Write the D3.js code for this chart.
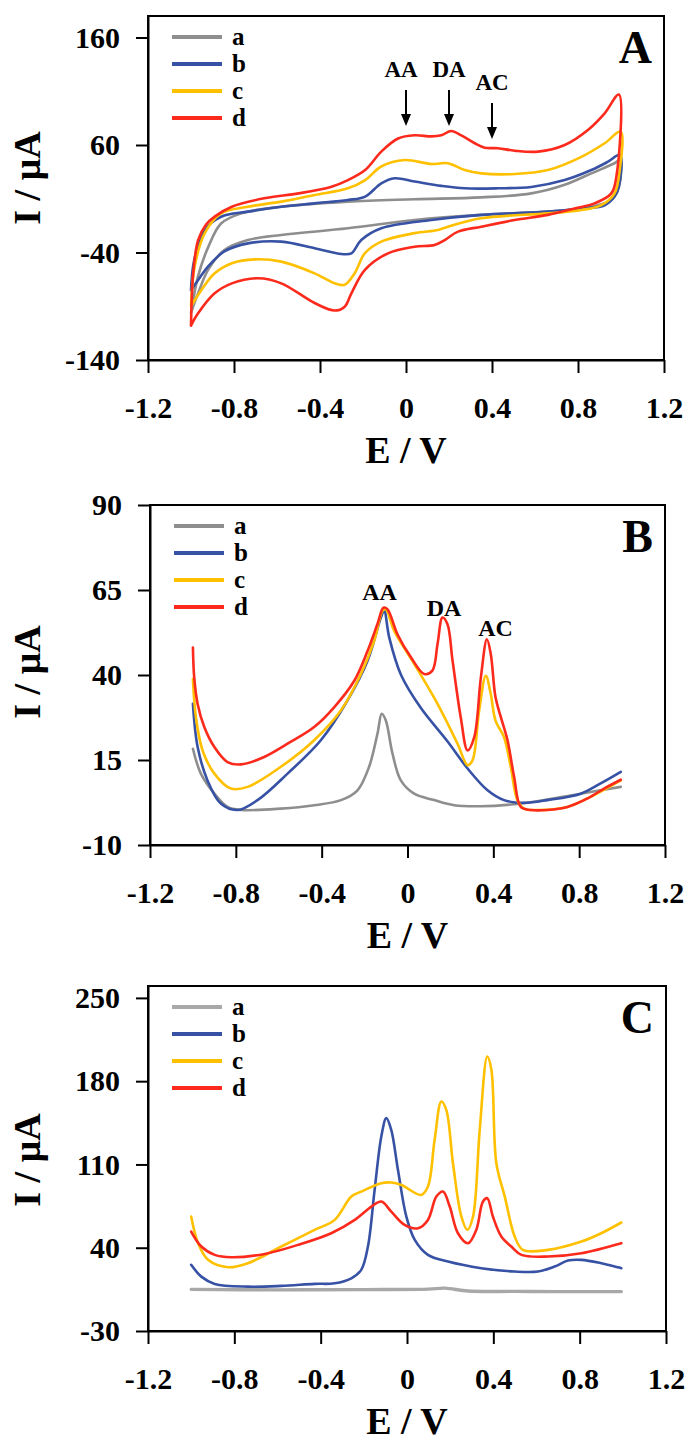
<!DOCTYPE html>
<html><head><meta charset="utf-8">
<script src="https://cdn.jsdelivr.net/npm/d3@7/dist/d3.min.js"></script>
<style>
html,body{margin:0;padding:0;background:#fff;}
svg text{font-family:"Liberation Serif","Times New Roman",serif;font-weight:bold;fill:#000;}
</style></head>
<body><svg id="chart" width="696" height="1448"></svg>
<script>
// ---------- shared ----------
const seriesNames = ["a", "b", "c", "d"];
const xTicks = [-1.2, -0.8, -0.4, 0, 0.4, 0.8, 1.2];
const xTickLabels = ["-1.2", "-0.8", "-0.4", "0", "0.4", "0.8", "1.2"];
const xTitle = "E / V";
const yTitle = "I / \u03bcA";

// ---------- Panel A (CV, loops: forward then reverse scan) ----------
const yTicksA = [-140, -40, 60, 160];
const cvA_a = [[-1.0,-96],[-0.967,-62],[-0.92,-35],[-0.86,-13],[-0.766,-3.6],[-0.58,2.6],[-0.27,7.3],[0.04,9.5],[0.35,11.3],[0.583,15],[0.738,23],[0.862,33.6],[0.97,43],[0.995,46],
  [0.99,21],[0.955,8.8],[0.862,2.6],[0.66,-2],[0.35,-5],[0.04,-9.8],[-0.27,-17.5],[-0.58,-23.7],[-0.735,-28.4],[-0.845,-37.7],[-0.92,-56],[-0.967,-78],[-1.0,-96]];
const cvA_b = [[-1.0,-75],[-0.985,-47],[-0.936,-19],[-0.86,-6.7],[-0.735,-2],[-0.58,2.6],[-0.425,5.7],[-0.27,8.8],[-0.19,12],[-0.115,24.3],[-0.053,29],[0.04,26],[0.164,22],[0.273,19.7],[0.428,19.7],[0.583,21],[0.738,27.4],[0.862,36.7],[0.94,44.5],[0.995,50.7],
  [0.99,21],[0.97,12],[0.924,4],[0.816,1],[0.66,-2],[0.35,-5],[0.118,-9.8],[-0.115,-17.5],[-0.208,-28.4],[-0.254,-40.8],[-0.3,-41.4],[-0.425,-36],[-0.58,-29.9],[-0.735,-31.5],[-0.845,-39],[-0.92,-53],[-0.975,-68],[-1.0,-75]];
const cvA_c = [[-1.0,-90],[-0.983,-53],[-0.936,-22],[-0.86,-3.6],[-0.735,2.6],[-0.58,7.3],[-0.425,13.5],[-0.27,19.7],[-0.19,27.4],[-0.115,40],[-0.006,46],[0.118,42.3],[0.195,43],[0.273,36.7],[0.35,33.6],[0.505,33],[0.66,36.7],[0.816,49],[0.924,61.6],[0.998,72.4],
  [0.994,36.7],[0.97,15],[0.908,4],[0.816,-0.5],[0.66,-3.6],[0.35,-8.2],[0.195,-16],[0.149,-19],[0.04,-22],[-0.115,-29.9],[-0.192,-40.8],[-0.239,-59.4],[-0.285,-70],[-0.332,-68.7],[-0.425,-59.4],[-0.58,-48.5],[-0.704,-46.4],[-0.81,-50],[-0.89,-59.4],[-0.952,-75],[-1.0,-90]];
const cvA_d = [[-1.0,-108],[-0.99,-60],[-0.967,-28.5],[-0.93,-14],[-0.89,-6.6],[-0.81,2.6],[-0.66,10.4],[-0.5,15],[-0.35,21],[-0.27,27.4],[-0.19,36.7],[-0.115,53.8],[-0.037,66],[0.04,69],[0.118,68],[0.164,69],[0.21,73],[0.257,69],[0.32,61.6],[0.366,57.5],[0.428,57],[0.505,54.7],[0.614,53.8],[0.738,60],[0.846,74],[0.924,89.5],[0.99,107],
  [0.978,30],[0.955,15],[0.877,5.7],[0.784,1],[0.66,-5],[0.505,-9.8],[0.35,-16],[0.242,-20.6],[0.18,-28.4],[0.133,-33],[0.04,-34.6],[-0.084,-40.8],[-0.192,-56.3],[-0.254,-78],[-0.285,-90.4],[-0.332,-94],[-0.425,-87],[-0.58,-68.7],[-0.688,-64],[-0.81,-68.7],[-0.89,-78],[-0.967,-96.6],[-1.0,-108]];
const notesA = ["AA", "DA", "AC"];
const notesA_E = [0, 0.2, 0.4];

// ---------- Panel B (DPV) ----------
const yTicksB = [-10, 15, 40, 65, 90];
const dpvB_a = [[-1.0,18.3],[-0.963,11],[-0.9,5.1],[-0.839,1.2],[-0.776,0.3],[-0.59,0.7],[-0.435,1.7],[-0.31,3.2],[-0.233,6.1],[-0.179,13],[-0.14,22.7],[-0.12,28.6],[-0.101,26.6],[-0.07,16.9],[-0.031,9],[0.031,5.1],[0.124,3.2],[0.217,1.7],[0.342,1.4],[0.497,2],[0.652,3.4],[0.807,5.1],[0.994,7.1]];
const dpvB_b = [[-1.0,31.5],[-0.978,18.8],[-0.932,9],[-0.87,2.2],[-0.792,0.3],[-0.699,3.2],[-0.559,11],[-0.404,20.8],[-0.28,32.5],[-0.186,44.2],[-0.124,56.9],[-0.109,59],[-0.085,51],[-0.03,40],[0.06,30.5],[0.186,20.5],[0.28,12.5],[0.373,6.1],[0.45,3.2],[0.543,2.4],[0.652,3.2],[0.807,5.1],[0.9,8.1],[0.994,11.5]];
const dpvB_c = [[-1.0,38.8],[-0.986,27.6],[-0.955,17.8],[-0.9,11],[-0.823,6.6],[-0.745,7.1],[-0.59,13],[-0.435,20.8],[-0.31,29.6],[-0.217,40.3],[-0.155,50.1],[-0.116,58.9],[-0.101,59.3],[-0.062,53],[0.031,43.3],[0.14,31.5],[0.233,19.8],[0.28,13.5],[0.303,14.9],[0.334,29.6],[0.365,39.8],[0.388,34.4],[0.41,26.6],[0.45,21.7],[0.481,13],[0.512,3.2],[0.543,0.7],[0.605,0.3],[0.745,1.2],[0.839,3.7],[0.994,9]];
const dpvB_d = [[-1.0,48.1],[-0.994,39.3],[-0.978,31.5],[-0.947,24.7],[-0.9,18.8],[-0.839,14.4],[-0.776,13.7],[-0.668,15.9],[-0.559,19.8],[-0.435,24.7],[-0.342,30.5],[-0.248,38.3],[-0.186,47.1],[-0.14,55],[-0.112,59.8],[-0.093,59.3],[-0.047,52],[0.016,45.2],[0.078,40.3],[0.116,41.3],[0.14,49.1],[0.163,56.9],[0.186,55],[0.21,44.2],[0.248,27.6],[0.28,17.8],[0.311,21.7],[0.342,39.3],[0.37,50.5],[0.388,46.2],[0.41,33.5],[0.435,27.6],[0.466,20.8],[0.497,10],[0.528,1.2],[0.575,0.3],[0.652,0.3],[0.745,1.2],[0.839,3.7],[0.916,6.6],[0.994,9.2]];
const notesB = ["AA", "DA", "AC"];
const notesB_pos = [[-0.13, 62], [0.17, 57.5], [0.41, 51.5]];

// ---------- Panel C (DPV) ----------
const yTicksC = [-30, 40, 110, 180, 250];
const dpvC_a = [[-1.0,5],[-0.6,4.6],[-0.2,4.8],[0.1,5.2],[0.175,6],[0.283,3.6],[0.5,3.3],[0.7,3.1],[0.993,3.1]];
const dpvC_b = [[-1.0,25.6],[-0.953,15.7],[-0.891,9.6],[-0.737,7.3],[-0.582,7.9],[-0.428,9.6],[-0.335,10.1],[-0.258,14.3],[-0.212,21.4],[-0.181,41],[-0.15,88.6],[-0.119,133.5],[-0.096,148.9],[-0.073,139.1],[-0.042,105.5],[-0.003,66.2],[0.036,46.6],[0.097,34],[0.19,28.4],[0.344,22.8],[0.499,20],[0.607,20],[0.684,24.2],[0.746,29.2],[0.808,29.8],[0.9,27],[0.993,22.8]];
const dpvC_c = [[-1.0,66.2],[-0.968,43.8],[-0.922,29.8],[-0.829,23.6],[-0.737,27],[-0.582,41],[-0.428,55],[-0.335,63.4],[-0.258,83],[-0.212,87.2],[-0.119,94.2],[-0.073,94.8],[-0.026,92.8],[0.066,84.4],[0.097,91.4],[0.128,130.7],[0.159,162.9],[0.182,155.9],[0.213,111],[0.252,66.2],[0.28,55],[0.306,66.2],[0.337,139.1],[0.372,200.8],[0.391,189.6],[0.414,111],[0.453,83],[0.499,49.4],[0.537,38.2],[0.653,38.2],[0.808,45.2],[0.9,52.2],[0.993,61.2]];
const dpvC_d = [[-1.0,53.6],[-0.953,41],[-0.891,34],[-0.814,32],[-0.659,34.8],[-0.505,42.4],[-0.351,52.2],[-0.242,63.4],[-0.165,74.6],[-0.119,78.8],[-0.073,70.4],[-0.011,59.2],[0.051,56.4],[0.097,63.4],[0.136,83],[0.167,87.2],[0.198,74.6],[0.236,52.2],[0.283,43.8],[0.321,55],[0.352,78.8],[0.372,81.6],[0.398,66.2],[0.437,49.4],[0.483,41],[0.53,34],[0.653,32.6],[0.808,35.4],[0.993,43.8]];

// ---------- styling ----------
const colorsAB = ["#8e8e8e", "#3752a4", "#ffc000", "#fb2a1c"];
const colorsC = ["#a8a8a8", "#3752a4", "#ffc000", "#fb2a1c"];

const panels = [
  {label:"A", box:{l:148,r:664,t:16,b:360}, yDomain:[-140,180], yTicks:yTicksA, series:[cvA_a,cvA_b,cvA_c,cvA_d], colors:colorsAB, widths:[2.6,2.6,2.6,2.6], yTitleY:178},
  {label:"B", box:{l:150,r:665,t:505,b:845}, yDomain:[-10,90], yTicks:yTicksB, series:[dpvB_a,dpvB_b,dpvB_c,dpvB_d], colors:colorsAB, widths:[2.6,2.6,2.6,2.6], yTitleY:672},
  {label:"C", box:{l:148,r:666,t:986,b:1331}, yDomain:[-30,260], yTicks:yTicksC, series:[dpvC_a,dpvC_b,dpvC_c,dpvC_d], colors:colorsC, widths:[3.4,2.6,2.6,2.6], yTitleY:1160}
];

const svg = d3.select("#chart");

panels.forEach((p) => {
  const g = svg.append("g");
  const x = d3.scaleLinear().domain([-1.2, 1.2]).range([p.box.l, p.box.r]);
  const y = d3.scaleLinear().domain(p.yDomain).range([p.box.b, p.box.t]);

  // frame
  g.append("rect").attr("x", p.box.l).attr("y", p.box.t)
    .attr("width", p.box.r - p.box.l).attr("height", p.box.b - p.box.t)
    .attr("fill", "none").attr("stroke", "#000").attr("stroke-width", 2);

  // curves
  const line = d3.line().x(d => x(d[0])).y(d => y(d[1])).curve(d3.curveCatmullRom.alpha(0.5));
  p.series.forEach((s, i) => {
    g.append("path").datum(s).attr("d", line).attr("fill", "none")
      .attr("stroke", p.colors[i]).attr("stroke-width", p.widths[i])
      .attr("stroke-linejoin", "round").attr("stroke-linecap", "round");
  });

  // axes
  const xAxis = d3.axisBottom(x).tickValues(xTicks)
    .tickFormat((d, i) => xTickLabels[i]).tickSize(13).tickSizeOuter(0).tickPadding(24);
  const gx = g.append("g").attr("transform", `translate(0,${p.box.b})`).call(xAxis);
  const yAxis = d3.axisLeft(y).tickValues(p.yTicks)
    .tickFormat(d => String(d)).tickSize(12).tickSizeOuter(0).tickPadding(16);
  const gy = g.append("g").attr("transform", `translate(${p.box.l},0)`).call(yAxis);
  [gx, gy].forEach(ax => {
    ax.select(".domain").attr("stroke", "#000").attr("stroke-width", 2);
    ax.selectAll(".tick line").attr("stroke", "#000").attr("stroke-width", 2);
    ax.selectAll(".tick text").style("font-size", "30px")
      .style("font-family", '"Liberation Serif","Times New Roman",serif').style("font-weight", "bold");
  });

  // axis titles
  g.append("text").attr("x", (p.box.l + p.box.r) / 2).attr("y", p.box.b + 103)
    .attr("text-anchor", "middle").style("font-size", "38px").text(xTitle);
  g.append("text").attr("transform", `translate(40,${p.yTitleY}) rotate(-90)`)
    .attr("text-anchor", "middle").style("font-size", "38px").text(yTitle);

  // panel letter
  g.append("text").attr("x", p.box.r - 12).attr("y", p.box.t + 47)
    .attr("text-anchor", "end").style("font-size", "46px").text(p.label);

  // legend
  seriesNames.forEach((n, i) => {
    const ly = p.box.t + 21 + i * 27;
    g.append("line").attr("x1", p.box.l + 24).attr("x2", p.box.l + 74)
      .attr("y1", ly).attr("y2", ly).attr("stroke", p.colors[i]).attr("stroke-width", 4);
    g.append("text").attr("x", p.box.l + 84).attr("y", ly + 8)
      .style("font-size", "25px").text(n);
  });

  // annotations
  if (p.label === "A") {
    notesA.forEach((t, i) => {
      const ex = x(notesA_E[i]);
      const top = i === 2 ? 103 : 90;
      g.append("text").attr("x", ex - (i === 0 ? 5 : 0)).attr("y", top - 13)
        .attr("text-anchor", "middle").style("font-size", "23px").text(t);
      g.append("line").attr("x1", ex).attr("x2", ex).attr("y1", top).attr("y2", top + 30)
        .attr("stroke", "#000").attr("stroke-width", 2);
      g.append("path").attr("d", `M${ex - 5},${top + 24} L${ex},${top + 36} L${ex + 5},${top + 24} Z`)
        .attr("fill", "#000");
    });
  }
  if (p.label === "B") {
    notesB.forEach((t, i) => {
      g.append("text").attr("x", x(notesB_pos[i][0])).attr("y", y(notesB_pos[i][1]))
        .attr("text-anchor", "middle").style("font-size", "24px").text(t);
    });
  }
});
</script></body></html>
